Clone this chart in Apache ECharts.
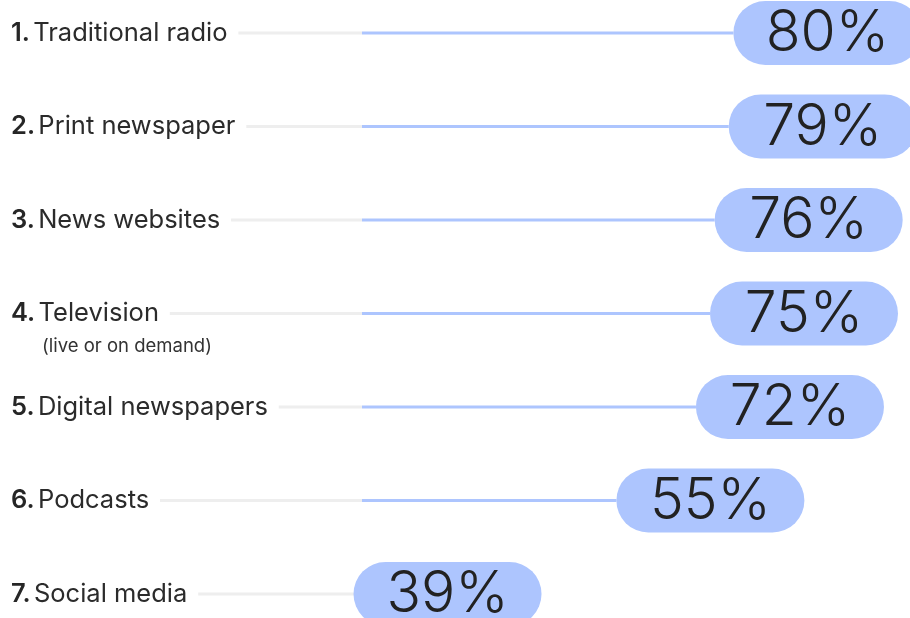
<!DOCTYPE html>
<html><head><meta charset="utf-8">
<script src="https://cdn.jsdelivr.net/npm/echarts@6/dist/echarts.min.js"></script>
<style>html,body{margin:0;padding:0;background:#fff}#c{width:910px;height:618px}</style>
</head><body><div id="c"></div>
<script>
var categories = ['Traditional radio','Print newspaper','News websites','Television','Digital newspapers','Podcasts','Social media'];
var subLabels = ['', '', '', '(live or on demand)', '', '', ''];
var values = [80, 79, 76, 75, 72, 55, 39];

var LABEL_FONT = 'Inter, sans-serif';
var PILL_FONT = 'Inter, sans-serif';
var LABEL_SIZE = 25.5;

var cv = document.createElement('canvas').getContext('2d');
function labelWidth(i){
  cv.font = '600 ' + LABEL_SIZE + 'px ' + LABEL_FONT;
  var w = cv.measureText((i+1) + '.').width;
  cv.font = LABEL_SIZE + 'px ' + LABEL_FONT;
  w += cv.measureText(' ' + categories[i]).width;
  return w;
}

var chart = echarts.init(document.getElementById('c'));
var LEFT_X = 11;

chart.setOption({
  animation: false,
  grid: {left: 359, right: 83, top: 33, bottom: 24},
  xAxis: {type: 'value', min: 0, max: 100, show: false},
  yAxis: {
    type: 'category', data: categories, inverse: true, boundaryGap: false,
    axisLine: {show: false}, axisTick: {show: false}, splitLine: {show: false},
    axisLabel: {
      align: 'left', margin: 359 - LEFT_X,
      formatter: function(v, i){
        var s = '{n|' + (i+1) + '.} {t|' + v + '}';
        if (subLabels[i]) s = '{e|}\n' + s + '\n{s|' + subLabels[i] + '}';
        return s;
      },
      rich: {
        n: {fontFamily: LABEL_FONT, fontWeight: 600, fontSize: LABEL_SIZE, color: '#262626', height: 40, lineHeight: 40},
        t: {fontFamily: LABEL_FONT, fontSize: LABEL_SIZE, color: '#2b2b2b', height: 40, lineHeight: 40},
        e: {fontSize: 10, height: 26, lineHeight: 26},
        s: {fontFamily: LABEL_FONT, fontSize: 18.5, color: '#333', height: 26, lineHeight: 26, padding: [0,0,0,31]}
      }
    }
  },
  series: [{
    type: 'custom',
    clip: false,
    data: values.map(function(v, i){ return [v, i]; }),
    renderItem: function(params, api){
      var v = api.value(0), idx = api.value(1);
      var p = api.coord([v, idx]);
      var x0 = api.coord([0, idx])[0] + 3;
      var y = p[1];
      var pw = 188, ph = 64;
      var pl = v < 50 ? p[0] - pw : p[0];
      var gx = LEFT_X + labelWidth(idx) + 7;
      var children = [
        {type: 'line', shape: {x1: gx, y1: y, x2: x0, y2: y}, style: {stroke: '#eeeeee', lineWidth: 3}},
        {type: 'rect', shape: {x: pl, y: y - ph/2, width: pw, height: ph, r: ph/2}, style: {fill: '#adc5fe'}},
        {type: 'text', x: pl + pw/2, y: y + 1, style: {text: v + '%', fill: '#222', font: '300 57px ' + PILL_FONT, align: 'center', verticalAlign: 'middle'}}
      ];
      if (pl > x0) children.splice(1, 0, {type: 'line', shape: {x1: x0, y1: y, x2: pl, y2: y}, style: {stroke: '#adc5fe', lineWidth: 3}});
      return {type: 'group', children: children};
    }
  }]
});
</script></body></html>
